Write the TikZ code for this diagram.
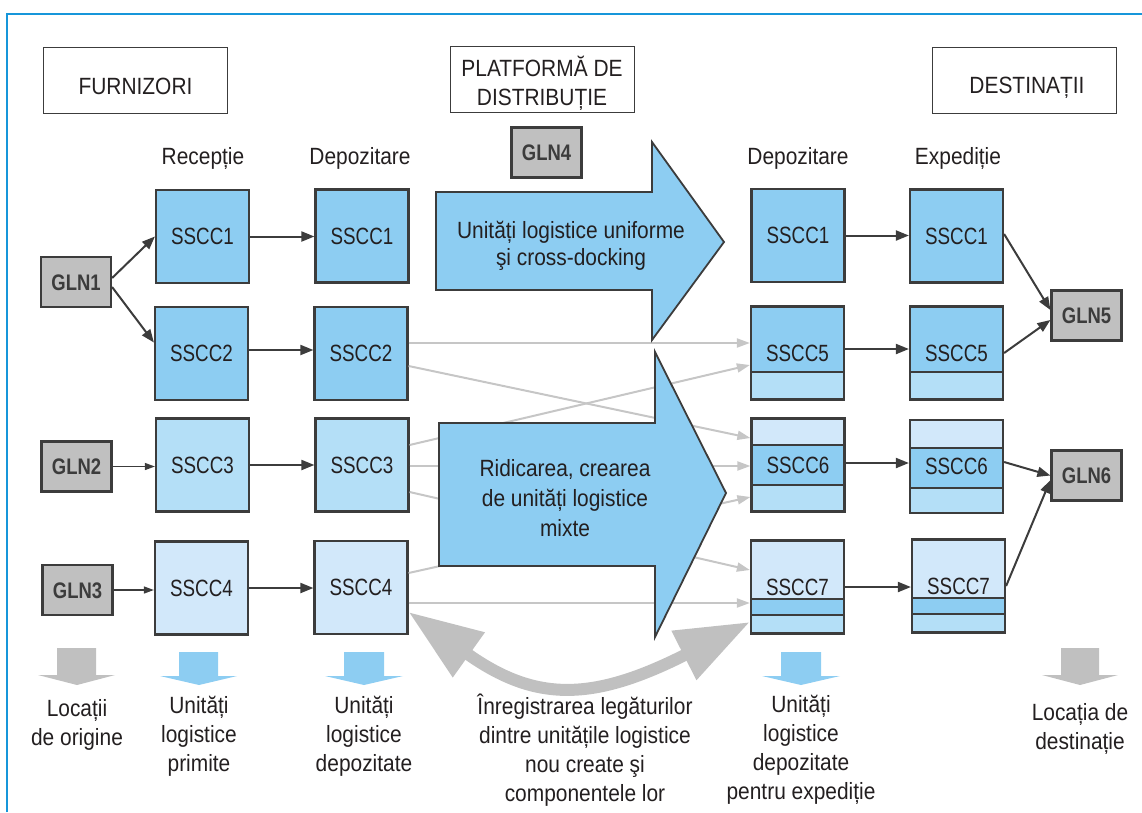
\documentclass[tikz,border=0pt]{standalone}
\usepackage{fontspec}
\setmainfont{Liberation Sans}[FakeStretch=0.89]
\newfontfamily\ssccfont{Liberation Sans}[FakeStretch=0.80]
\newfontfamily\glnfont{Liberation Sans}[FakeStretch=0.82]
\usetikzlibrary{arrows.meta}

\definecolor{cdark}{RGB}{141,205,242}
\definecolor{cmed}{RGB}{180,223,247}
\definecolor{clight}{RGB}{210,232,250}
\definecolor{glngray}{RGB}{192,192,192}
\definecolor{linkgray}{RGB}{198,198,198}
\definecolor{edge}{RGB}{60,60,60}
\definecolor{ink}{RGB}{35,31,32}
\definecolor{frameblue}{RGB}{22,150,218}

\begin{document}
\begin{tikzpicture}[x=1pt,y=-1pt,
  box/.style={draw=edge, line width=2.2pt, minimum width=93pt, minimum height=93pt,
    inner sep=0pt, font=\ssccfont\fontsize{23.5}{28}\selectfont, text=ink,
    text height=16.8pt, text depth=0pt},
  gln/.style={draw=edge, line width=2.2pt, fill=glngray, minimum width=70pt,
    minimum height=50pt, inner sep=0pt,
    font=\glnfont\bfseries\fontsize{22.5}{27}\selectfont, text=edge,
    text height=16.1pt, text depth=0pt},
  hdr/.style={draw=edge, line width=1.6pt, fill=white, minimum width=184pt, minimum height=66pt},
  lbl/.style={font=\fontsize{23.5}{29}\selectfont, text=ink, align=center, inner sep=0pt},
  flow/.style={draw=edge, line width=2pt, -{Triangle[length=13pt,width=10pt]}},
  thinflow/.style={draw=edge, line width=1.3pt, -{Triangle[length=10pt,width=7pt]}},
  link/.style={draw=linkgray, line width=2pt, -{Triangle[length=13pt,width=9pt]}},
  block/.style={fill=cdark, draw=edge, line width=1.8pt, line join=miter},
  divider/.style={draw=edge, line width=2.2pt},
]
\useasboundingbox (0,0) rectangle (1142,812);

% outer frame
\draw[frameblue, line width=2.6pt] (7,812) -- (7,14) -- (1142,14);

% headings
\node[hdr] (sup) at (135.5,80.5) {};
\node[lbl, anchor=base] (supt) at (135.5,94) {FURNIZORI};
\node[hdr] (plat) at (542.5,79.5) {};
\node[lbl] (platt) at (542,83) {PLATFORMĂ DE\\DISTRIBUȚIE};
\node[hdr] (dest) at (1024.5,80.5) {};
\node[lbl, anchor=base] (destt) at (1027,93) {DESTINAȚII};

\node[lbl, anchor=base] (hrec) at (203,164) {Recepție};
\node[lbl, anchor=base] (hdep) at (360,164) {Depozitare};
\node[lbl, anchor=base] (hdepb) at (798,164) {Depozitare};
\node[lbl, anchor=base] (hexp) at (958,164) {Expediție};

% locations
\node[gln] (g1) at (76,282) {GLN1};
\node[gln] (g2) at (76.5,466.5) {GLN2};
\node[gln] (g3) at (77.5,590) {GLN3};
\node[gln] (g4) at (546.5,152.5) {GLN4};
\node[gln] (g5) at (1086.5,315.5) {GLN5};
\node[gln] (g6) at (1086.5,475.5) {GLN6};

% reception and storage at the suppliers' side
\node[box, fill=cdark]  (r1) at (202.5,236.5) {SSCC1};
\node[box, fill=cdark]  (r2) at (201.5,353.5) {SSCC2};
\node[box, fill=cmed]   (r3) at (202.5,465) {SSCC3};
\node[box, fill=clight] (r4) at (201.5,588) {SSCC4};
\node[box, fill=cdark]  (p1) at (362,236) {SSCC1};
\node[box, fill=cdark]  (p2) at (361,353.5) {SSCC2};
\node[box, fill=cmed]   (p3) at (362,465) {SSCC3};
\node[box, fill=clight] (p4) at (361,587.5) {SSCC4};

% storage and dispatch at the platform
\node[box, fill=cdark] (d1) at (798,235.5) {SSCC1};
\node[box, fill=cdark] (e1) at (956.5,236) {SSCC1};

% layered units
\fill[cdark] (751,306.5) rectangle (844,372);
\fill[cmed]  (751,372) rectangle (844,399.5);
\node[box] (d5) at (797.5,353) {SSCC5};
\draw[divider] (751,372) -- (844,372);

\fill[cdark] (910,306.5) rectangle (1003,372);
\fill[cmed]  (910,372) rectangle (1003,399.5);
\node[box] (e5) at (956.5,353) {SSCC5};
\draw[divider] (910,372) -- (1003,372);

\fill[clight] (751.5,418.5) rectangle (844.5,445);
\fill[cdark]  (751.5,445) rectangle (844.5,485);
\fill[cmed]   (751.5,485) rectangle (844.5,511.5);
\node[box] (d6) at (798,465) {SSCC6};
\draw[divider] (751.5,445) -- (844.5,445);
\draw[divider] (751.5,485) -- (844.5,485);

\fill[clight] (910,420) rectangle (1003,448);
\fill[cdark]  (910,448) rectangle (1003,488);
\fill[cmed]   (910,488) rectangle (1003,513);
\node[box] (e6) at (956.5,466.5) {SSCC6};
\draw[divider] (910,448) -- (1003,448);
\draw[divider] (910,488) -- (1003,488);

\fill[clight] (751,540.5) rectangle (844,599);
\fill[cdark]  (751,599) rectangle (844,615);
\fill[cmed]   (751,615) rectangle (844,633.5);
\node[box] (d7) at (797.5,587) {SSCC7};
\draw[divider] (751,599) -- (844,599);
\draw[divider] (751,615) -- (844,615);

\fill[clight] (912,539.5) rectangle (1005,598);
\fill[cdark]  (912,598) rectangle (1005,614);
\fill[cmed]   (912,614) rectangle (1005,632.5);
\node[box] (e7) at (958.5,586) {SSCC7};
\draw[divider] (912,598) -- (1005,598);
\draw[divider] (912,614) -- (1005,614);

% transfers through the platform
\draw[link] ([yshift=10.5pt]p2.east) -- ([yshift=10pt]d5.west);
\draw[link] ([yshift=-12.5pt]p2.east) -- ([yshift=27pt]d6.west);
\draw[link] ([yshift=20pt]p3.east) -- ([yshift=-12pt]d5.west);
\draw[link] ([yshift=-1pt]p3.east) -- ([yshift=-1pt]d6.west);
\draw[link] ([yshift=-27pt]p3.east) -- ([yshift=17pt]d7.west);
\draw[link] ([yshift=14.5pt]p4.east) -- ([yshift=-32pt]d6.west);
\draw[link] ([yshift=-15.5pt]p4.east) -- ([yshift=-16pt]d7.west);

% main flows
\draw[flow] ([yshift=4pt]g1.east) -- (r1.west);
\draw[flow] ([yshift=-5pt]g1.east) -- ([yshift=11pt]r2.west);
\draw[thinflow] (g2.east) -- (g2.east -| r3.west);
\draw[thinflow] (g3.east) -- (g3.east -| r4.west);
\draw[flow] (r1.east) -- (r1.east -| p1.west);
\draw[flow] ([yshift=3.5pt]r2.east) -- ([yshift=3.5pt]r2.east -| p2.west);
\draw[flow] (r3.east) -- (r3.east -| p3.west);
\draw[flow] (r4.east) -- (r4.east -| p4.west);
\draw[flow] (d1.east) -- (d1.east -| e1.west);
\draw[flow] ([yshift=4pt]d5.east) -- ([yshift=4pt]d5.east -| e5.west);
\draw[flow] ([yshift=2pt]d6.east) -- ([yshift=2pt]d6.east -| e6.west);
\draw[flow] (d7.east) -- (d7.east -| e7.west);
\draw[flow] ([yshift=2pt]e1.east) -- ([yshift=5.5pt]g5.west);
\draw[flow] (e5.east) -- ([yshift=-4.5pt]g5.west);
\draw[flow] ([yshift=4.5pt]e6.east) -- (g6.west);
\draw[flow] (e7.east) -- ([yshift=-4.5pt]g6.west);

% block arrows of the platform
\filldraw[block] (436,192) -- (652,192) -- (652,142) -- (724,242) -- (652,340) -- (652,290) -- (436,290) -- cycle;
\node[lbl, font=\fontsize{23.5}{27}\selectfont] (uni) at (571,246)
  {Unități logistice uniforme\\şi cross-docking};
\filldraw[block] (439,423) -- (655,423) -- (655,352) -- (726,493) -- (655,637) -- (655,566) -- (439,566) -- cycle;
\node[lbl, font=\fontsize{23.5}{30}\selectfont] (mix) at (565,498)
  {Ridicarea, crearea\\de unități logistice\\mixte};

% link recording
\draw[glngray, line width=12pt,
  {Triangle[length=74pt,width=52pt]}-{Triangle[length=74pt,width=52pt]}]
  ([yshift=-24.5pt]p4.east) .. controls (535,702) and (592,702) .. ([yshift=-35pt]d7.west);

% down arrows
\fill[glngray] (57,648) -- (96,648) -- (96,675) -- (115,675) -- (77,685) -- (38,675) -- (57,675) -- cycle;
\fill[cdark] (179,652) -- (218,652) -- (218,676) -- (237,676) -- (199,685) -- (160,676) -- (179,676) -- cycle;
\fill[cdark] (344,652) -- (384,652) -- (384,676) -- (403,676) -- (364,685) -- (325,676) -- (344,676) -- cycle;
\fill[cdark] (781,652) -- (821,652) -- (821,676) -- (840,676) -- (801,685) -- (762,676) -- (781,676) -- cycle;
\fill[glngray] (1061,648) -- (1099,648) -- (1099,675) -- (1118,675) -- (1080,685) -- (1042,675) -- (1061,675) -- cycle;

% captions
\node[lbl] (c1) at (77,725) {Locații\\de origine};
\node[lbl] (c2) at (199,736.5) {Unități\\logistice\\primite};
\node[lbl] (c3) at (364,736.5) {Unități\\logistice\\depozitate};
\node[lbl] (c4) at (585,750.5) {Înregistrarea legăturilor\\dintre unitățile logistice\\nou create şi\\componentele lor};
\node[lbl] (c5) at (801,750) {Unități\\logistice\\depozitate\\pentru expediție};
\node[lbl] (c6) at (1080,729) {Locația de\\destinație};
\end{tikzpicture}
\end{document}
